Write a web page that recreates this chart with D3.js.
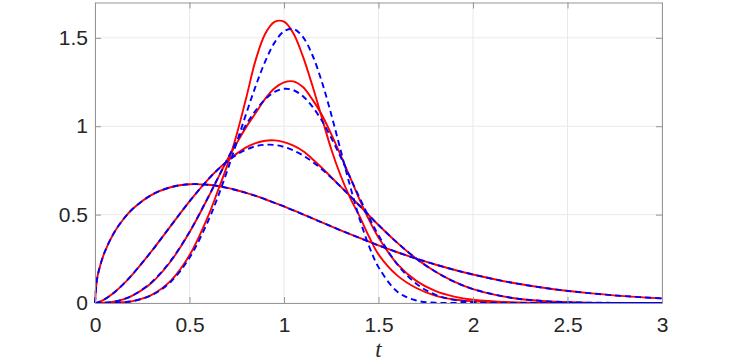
<!DOCTYPE html>
<html><head><meta charset="utf-8">
<script src="https://cdn.jsdelivr.net/npm/d3@7"></script>
<style>body{margin:0;background:#fff}svg{display:block}</style>
</head><body><svg id="c" width="731" height="361"></svg>
<script>
const tVals = [0,0.01,0.02,0.05,0.1,0.15,0.2,0.3,0.4,0.5,0.6,0.65,0.7,0.75,0.8,0.85,0.9,0.95,1.0,1.05,1.1,1.15,1.2,1.25,1.3,1.35,1.4,1.45,1.5,1.6,1.7,1.8,1.9,2.0,2.2,2.4,2.6,2.8,3.0];
// solid red curves
const redA = [0,0.129,0.182,0.285,0.396,0.474,0.533,0.612,0.655,0.672,0.669,0.662,0.651,0.638,0.623,0.606,0.587,0.567,0.546,0.524,0.502,0.479,0.456,0.434,0.411,0.389,0.368,0.347,0.326,0.287,0.251,0.218,0.188,0.161,0.116,0.082,0.057,0.039,0.026];
const redB = [0,0.0018,0.0052,0.0207,0.0585,0.107,0.164,0.294,0.435,0.575,0.701,0.755,0.803,0.845,0.880,0.905,0.918,0.920,0.910,0.890,0.860,0.815,0.765,0.712,0.658,0.605,0.550,0.495,0.441,0.340,0.251,0.178,0.121,0.079,0.030,0.0092,0.0024,0.0005,0.0001];
const redC = [0,0,0,0.0013,0.008,0.021,0.043,0.115,0.235,0.400,0.600,0.705,0.810,0.905,0.995,1.075,1.155,1.215,1.248,1.254,1.222,1.152,1.065,0.955,0.835,0.710,0.585,0.470,0.370,0.220,0.125,0.068,0.036,0.018,0.004,0.001,0,0,0];
const redD = [0,0,0,0,0.001,0.004,0.011,0.046,0.125,0.270,0.495,0.635,0.780,0.955,1.160,1.374,1.522,1.590,1.592,1.525,1.395,1.230,1.050,0.870,0.720,0.595,0.490,0.375,0.275,0.155,0.085,0.042,0.020,0.009,0.002,0,0,0,0];
// dashed blue curves
const blueA = [0,0.129,0.182,0.285,0.396,0.474,0.533,0.612,0.655,0.672,0.669,0.662,0.651,0.638,0.623,0.606,0.587,0.567,0.546,0.524,0.502,0.479,0.456,0.434,0.411,0.389,0.368,0.347,0.326,0.287,0.251,0.218,0.188,0.161,0.116,0.082,0.057,0.039,0.026];
const blueB = [0,0.0018,0.0052,0.0207,0.0585,0.107,0.164,0.294,0.435,0.575,0.701,0.755,0.801,0.839,0.868,0.887,0.895,0.894,0.883,0.863,0.835,0.799,0.757,0.709,0.658,0.605,0.550,0.495,0.441,0.340,0.251,0.178,0.121,0.079,0.030,0.0092,0.0024,0.0005,0.0001];
const blueC = [0,0,0,0.0013,0.0077,0.021,0.043,0.118,0.238,0.402,0.601,0.707,0.813,0.915,1.009,1.089,1.152,1.194,1.212,1.204,1.170,1.111,1.032,0.934,0.825,0.710,0.595,0.485,0.383,0.218,0.109,0.047,0.0175,0.0055,0.0003,0,0,0,0];
const blueD = [0,0,0,0,0.0009,0.0039,0.0107,0.044,0.119,0.256,0.467,0.600,0.749,0.909,1.071,1.227,1.365,1.473,1.537,1.550,1.505,1.403,1.253,1.067,0.863,0.661,0.476,0.322,0.203,0.064,0.014,0.002,0.0003,0,0,0,0,0,0];

const xTicks = [0,0.5,1,1.5,2,2.5,3];
const xTickLabels = ["0","0.5","1","1.5","2","2.5","3"];
const yTicks = [0,0.5,1,1.5];
const yTickLabels = ["0","0.5","1","1.5"];

const svg = d3.select("#c");
const L=95, R=662, T=2.5, B=303;
const x = d3.scaleLinear().domain([0,3]).range([L,R]);
const y = d3.scaleLinear().domain([0,1.7]).range([B,T]);
const axisCol = "#969696", textCol = "#262626", gridCol = "#e9e9e9";

// grid
svg.append("g").selectAll("line").data(xTicks).join("line")
  .attr("x1",d=>x(d)).attr("x2",d=>x(d)).attr("y1",T).attr("y2",B)
  .attr("stroke",gridCol).attr("stroke-width",1);
svg.append("g").selectAll("line").data(yTicks).join("line")
  .attr("y1",d=>y(d)).attr("y2",d=>y(d)).attr("x1",L).attr("x2",R)
  .attr("stroke",gridCol).attr("stroke-width",1);

svg.append("defs").append("clipPath").attr("id","clip").append("rect")
  .attr("x",L-2).attr("y",T).attr("width",R-L+4).attr("height",B-T+2);

const line = d3.line().x((d,i)=>x(tVals[i])).y(d=>y(d)).curve(d3.curveCatmullRom.alpha(0.5));
const g = svg.append("g").attr("clip-path","url(#clip)");
[redA,redB,redC,redD].forEach(s=>{
  g.append("path").attr("d",line(s)).attr("fill","none").attr("stroke","#ff0000").attr("stroke-width",1.9);
});
[blueA,blueB,blueC,blueD].forEach(s=>{
  g.append("path").attr("d",line(s)).attr("fill","none").attr("stroke","#0000ff").attr("stroke-width",1.9).attr("stroke-dasharray","6,4");
});

// axes (box with inward ticks, via d3 axes)
const tickLen = 6;
const xAxisB = d3.axisBottom(x).tickValues(xTicks).tickFormat((d,i)=>xTickLabels[i]).tickSizeInner(-tickLen).tickSizeOuter(0).tickPadding(14);
const xAxisT = d3.axisTop(x).tickValues(xTicks).tickFormat("").tickSizeInner(-tickLen).tickSizeOuter(0);
const yAxisL = d3.axisLeft(y).tickValues(yTicks).tickFormat((d,i)=>yTickLabels[i]).tickSizeInner(-tickLen).tickSizeOuter(0).tickPadding(7);
const yAxisR = d3.axisRight(y).tickValues(yTicks).tickFormat("").tickSizeInner(-tickLen).tickSizeOuter(0);
function style(sel){
  sel.selectAll("path.domain").attr("stroke",axisCol).attr("stroke-width",1);
  sel.selectAll(".tick line").attr("stroke",axisCol).attr("stroke-width",1);
  sel.selectAll(".tick text").attr("fill",textCol).style("font-family","'Liberation Sans', Arial, sans-serif").style("font-size","21px");
}
svg.append("g").attr("transform",`translate(0,${B})`).call(xAxisB).call(style);
svg.append("g").attr("transform",`translate(0,${T})`).call(xAxisT).call(style);
svg.append("g").attr("transform",`translate(${L},0)`).call(yAxisL).call(style);
svg.append("g").attr("transform",`translate(${R},0)`).call(yAxisR).call(style);

svg.append("text").attr("x",(L+R)/2).attr("y",357).attr("text-anchor","middle")
  .attr("fill",textCol).style("font-family","'Liberation Serif','DejaVu Serif',serif")
  .style("font-style","italic").style("font-size","23px").text("t");
</script></body></html>
